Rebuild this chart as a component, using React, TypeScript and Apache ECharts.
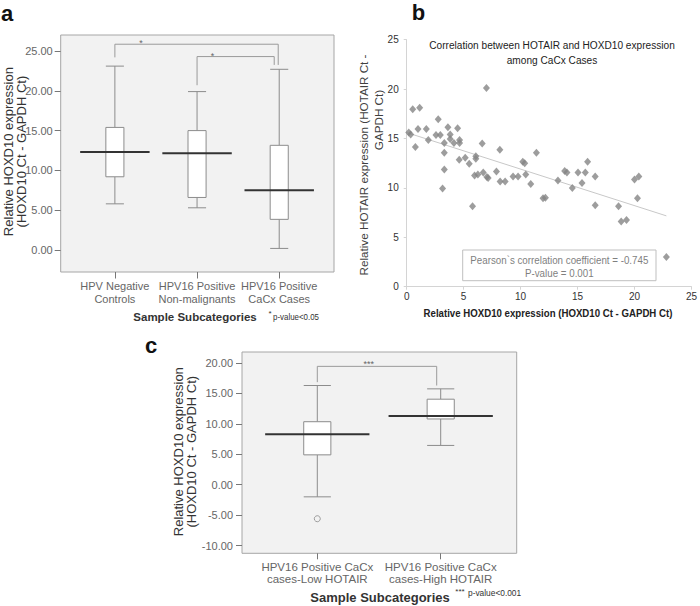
import React, { useEffect, useRef } from 'react';
import * as echarts from 'echarts';

// ---------- Panel a ----------
const catsA = ['HPV Negative\nControls', 'HPV16 Positive\nNon-malignants', 'HPV16 Positive\nCaCx Cases'];
// [low whisker, Q1, median, Q3, high whisker]
const boxA = [
  [5.8, 9.2, 12.3, 15.4, 23.1],
  [5.3, 6.6, 12.15, 15.0, 19.9],
  [0.2, 3.85, 7.5, 13.15, 22.7],
];
// [fromCat, toCat, top, left leg end, right leg end]
const bracketsA = [
  [0, 2, 25.85, 24.2, 23.25],
  [1, 2, 24.3, 20.7, 23.25],
];
const bracketLabelsA = ['*', '*'];

// ---------- Panel b ----------
const scatterB = [
  [0.18, 15.6], [0.35, 15.4], [0.53, 17.95], [0.76, 14.15], [0.99, 15.95], [1.14, 18.1],
  [1.72, 15.95], [1.9, 14.85], [2.57, 15.35], [2.77, 16.95], [2.95, 15.35], [3.15, 9.95],
  [3.3, 14.55], [3.3, 13.55], [3.3, 11.85], [3.62, 16.15], [3.82, 15.4], [3.82, 14.95],
  [4.15, 14.55], [4.47, 16.05], [4.64, 14.85], [4.64, 14.55], [4.61, 12.85], [5.14, 13.05],
  [5.49, 12.45], [5.78, 8.15], [5.96, 11.25], [6.07, 13.2], [6.07, 12.95], [6.25, 11.35],
  [6.63, 14.5], [6.72, 11.55], [7.0, 20.1], [7.04, 11.1], [7.15, 11.0], [7.88, 11.65],
  [8.18, 13.85], [8.2, 10.65], [8.64, 10.65], [9.34, 11.15], [9.78, 11.15], [10.19, 12.65],
  [10.36, 12.5], [10.45, 11.35], [10.89, 10.4], [11.39, 13.55], [11.97, 8.95], [12.18, 9.0],
  [13.28, 10.75], [13.87, 11.7], [14.07, 11.55], [14.54, 10.0], [15.04, 11.55], [15.39, 10.5],
  [15.68, 11.55], [15.88, 12.65], [16.55, 11.15], [16.55, 8.25], [18.6, 8.15], [18.83, 6.6],
  [19.3, 6.75], [20.0, 10.85], [20.26, 8.95], [20.38, 11.15], [22.8, 3.0],
];
const fitB = [[0, 15.6], [22.8, 7.17]];
const titleB = 'Correlation between HOTAIR and HOXD10 expression\namong CaCx Cases';
const statsB = ['Pearson`s correlation coefficient = -0.745', 'P-value = 0.001'];

// ---------- Panel c ----------
const catsC = ['HPV16 Positive CaCx\ncases-Low HOTAIR', 'HPV16 Positive CaCx\ncases-High HOTAIR'];
const boxC = [
  [-2.0, 4.9, 8.3, 10.35, 16.3],
  [6.45, 10.8, 11.3, 14.05, 15.75],
];
const outliersC = [[0, -5.6]];
const bracketsC = [[0, 1, 19.45, 16.85, 16.3]];
const bracketLabelsC = ['***'];

const FONT = 'Arial, "Liberation Sans", sans-serif';
const BOXGRAY = '#8c8c8c';

const boxRender = (params: any, api: any) => {
  const idx = api.value(0);
  const band = api.size([1, 0])[0];
  const xc = api.coord([idx, 0])[0];
  const y = (k: number) => api.coord([idx, api.value(k)])[1];
  const yl = y(1), q1 = y(2), md = y(3), q3 = y(4), yh = y(5);
  const bw = band * 0.22;
  const mw = band * 0.845;
  const ws = { stroke: BOXGRAY, lineWidth: 1, fill: null };
  return {
    type: 'group',
    children: [
      { type: 'line', shape: { x1: xc, y1: yh, x2: xc, y2: q3 }, style: ws },
      { type: 'line', shape: { x1: xc, y1: q1, x2: xc, y2: yl }, style: ws },
      { type: 'line', shape: { x1: xc - bw / 2, y1: yh, x2: xc + bw / 2, y2: yh }, style: ws },
      { type: 'line', shape: { x1: xc - bw / 2, y1: yl, x2: xc + bw / 2, y2: yl }, style: ws },
      { type: 'rect', shape: { x: xc - bw / 2, y: q3, width: bw, height: q1 - q3 }, style: { fill: '#ffffff', stroke: BOXGRAY, lineWidth: 1 } },
      { type: 'line', shape: { x1: xc - mw / 2, y1: md, x2: xc + mw / 2, y2: md }, style: { stroke: '#333333', lineWidth: 2 } },
    ],
  };
};

const makeBracketRender = (labels: string[], fracs: number[], insets: number[], ty: number) => (params: any, api: any) => {
  const i = params.dataIndex;
  const a = api.value(0), b = api.value(1);
  const xa = api.coord([a, 0])[0];
  const xb = api.coord([b, 0])[0] - insets[i];
  const yt = api.coord([a, api.value(2)])[1];
  const yl = api.coord([a, api.value(3)])[1];
  const yr = api.coord([a, api.value(4)])[1];
  return {
    type: 'group',
    children: [
      { type: 'polyline', shape: { points: [[xa, yl], [xa, yt], [xb, yt], [xb, yr]] }, style: { stroke: '#9a9a9a', lineWidth: 1, fill: null } },
      { type: 'text', x: xa + (xb - xa) * fracs[i], y: yt + ty, style: { text: labels[i], fill: '#666666', fontSize: 9, fontFamily: FONT, align: 'center', verticalAlign: 'middle' } },
    ],
  };
};

const text = (x: number, y: number, t: string, o: any = {}) => ({
  type: 'text',
  x,
  y,
  rotation: o.rotation || 0,
  scaleX: o.scaleX || 1,
  z: 10,
  style: {
    text: t,
    fill: o.fill || '#333333',
    fontSize: o.fontSize || 12,
    fontFamily: o.fontFamily || FONT,
    fontWeight: o.fontWeight || 'normal',
    align: o.align || 'center',
    verticalAlign: o.verticalAlign || 'middle',
    lineHeight: o.lineHeight,
  },
});

export default function App() {
  const ref = useRef<HTMLDivElement>(null);
  useEffect(() => {
    if (!ref.current) return;
    const chart = echarts.init(ref.current, undefined, { renderer: 'svg' });
    const fmt2 = (v: number) => v.toFixed(2);
    const option: any = {
      animation: false,
      backgroundColor: '#ffffff',
      grid: [
        { left: 73.8, top: 51, width: 246.5, height: 199 },
        { left: 406.7, top: 39.7, width: 286.5, height: 247 },
        { left: 255.6, top: 363, width: 246.8, height: 182.5 },
      ],
      xAxis: [
        {
          gridIndex: 0, type: 'category', data: catsA, offset: 22,
          axisLine: { show: false, onZero: false },
          axisTick: { show: true, alignWithLabel: true, length: 6.5, lineStyle: { color: '#777' } },
          axisLabel: { color: '#666', fontSize: 11, lineHeight: 13, margin: 7.5, interval: 0, fontFamily: FONT },
        },
        {
          gridIndex: 1, type: 'value', min: 0, max: 25, interval: 5,
          axisLine: { show: true, onZero: false, lineStyle: { color: '#d4d4d4' } },
          axisTick: { show: true, length: 3, lineStyle: { color: '#d4d4d4' } },
          axisLabel: { color: '#333', fontSize: 10, margin: 5, fontFamily: FONT },
          splitLine: { show: false },
        },
        {
          gridIndex: 2, type: 'category', data: catsC, offset: 7.8,
          axisLine: { show: false, onZero: false },
          axisTick: { show: true, alignWithLabel: true, length: 6, lineStyle: { color: '#777' } },
          axisLabel: { color: '#666', fontSize: 11.5, lineHeight: 12, margin: 7.4, interval: 0, fontFamily: FONT },
        },
      ],
      yAxis: [
        {
          gridIndex: 0, type: 'value', min: 0, max: 25, interval: 5, offset: 13.1,
          axisLine: { show: false, onZero: false },
          axisTick: { show: true, length: 6, lineStyle: { color: '#777' } },
          axisLabel: { color: '#666', fontSize: 11, margin: 8, formatter: fmt2, fontFamily: FONT },
          splitLine: { show: false },
        },
        {
          gridIndex: 1, type: 'value', min: 0, max: 25, interval: 5,
          axisLine: { show: true, onZero: false, lineStyle: { color: '#d4d4d4' } },
          axisTick: { show: true, length: 3, lineStyle: { color: '#d4d4d4' } },
          axisLabel: { color: '#333', fontSize: 10, margin: 8, fontFamily: FONT },
          splitLine: { show: false },
        },
        {
          gridIndex: 2, type: 'value', min: -10, max: 20, interval: 5, offset: 13.6,
          axisLine: { show: false, onZero: false },
          axisTick: { show: true, length: 6, lineStyle: { color: '#777' } },
          axisLabel: { color: '#666', fontSize: 11, margin: 9, formatter: fmt2, fontFamily: FONT },
          splitLine: { show: false },
        },
      ],
      series: [
        {
          type: 'custom', xAxisIndex: 0, yAxisIndex: 0, renderItem: boxRender,
          encode: { x: 0, y: [1, 2, 3, 4, 5] },
          data: boxA.map((b, i) => [i, ...b]), z: 3,
        },
        {
          type: 'custom', xAxisIndex: 0, yAxisIndex: 0,
          renderItem: makeBracketRender(bracketLabelsA, [0.16, 0.2], [1, 5], -1),
          encode: { x: [0, 1], y: [2, 3, 4] },
          data: bracketsA, z: 3,
        },
        {
          type: 'line', xAxisIndex: 1, yAxisIndex: 1, data: fitB, symbol: 'none',
          lineStyle: { color: '#c8c8c8', width: 1 }, z: 2,
        },
        {
          type: 'scatter', xAxisIndex: 1, yAxisIndex: 1, data: scatterB, symbol: 'diamond',
          symbolSize: [7, 8], itemStyle: { color: '#858585' }, z: 3,
        },
        {
          type: 'custom', xAxisIndex: 2, yAxisIndex: 2, renderItem: boxRender,
          encode: { x: 0, y: [1, 2, 3, 4, 5] },
          data: boxC.map((b, i) => [i, ...b]), z: 3,
        },
        {
          type: 'scatter', xAxisIndex: 2, yAxisIndex: 2, data: outliersC, symbol: 'circle', symbolSize: 6,
          itemStyle: { color: 'rgba(0,0,0,0)', borderColor: '#888', borderWidth: 1 }, z: 3,
        },
        {
          type: 'custom', xAxisIndex: 2, yAxisIndex: 2,
          renderItem: makeBracketRender(bracketLabelsC, [0.43], [4], -2),
          encode: { x: [0, 1], y: [2, 3, 4] },
          data: bracketsC, z: 3,
        },
      ],
      graphic: [
        // frames
        { type: 'rect', z: -1, shape: { x: 60.7, y: 35, width: 273.3, height: 237 }, style: { fill: '#f2f2f2', stroke: '#a6a6a6', lineWidth: 1 } },
        { type: 'rect', z: -1, shape: { x: 242, y: 352, width: 274.7, height: 201.3 }, style: { fill: '#f2f2f2', stroke: '#a6a6a6', lineWidth: 1 } },
        // Pearson box
        { type: 'rect', z: 5, shape: { x: 462.7, y: 250, width: 193.3, height: 30.7 }, style: { fill: '#ffffff', stroke: '#bfbfbf', lineWidth: 1 } },
        text(559.3, 259.5, statsB[0], { fontSize: 11.5, scaleX: 0.85, fill: '#7f7f7f' }),
        text(559.3, 272.7, statsB[1], { fontSize: 11.5, scaleX: 0.85, fill: '#7f7f7f' }),
        // panel letters
        text(7, 13, 'a', { fontSize: 22, fontWeight: 'bold', fill: '#111' }),
        text(418.5, 12.4, 'b', { fontSize: 22, fontWeight: 'bold', fill: '#111' }),
        text(151, 345.5, 'c', { fontSize: 22, fontWeight: 'bold', fill: '#111' }),
        // panel a titles
        text(15, 151.6, 'Relative HOXD10 expression\n(HOXD10 Ct - GAPDH Ct)', { rotation: Math.PI / 2, fontSize: 13, lineHeight: 12.5, fill: '#333' }),
        text(195, 317, 'Sample Subcategories', { fontSize: 11.5, fontWeight: 'bold', fill: '#333' }),
        text(270, 313, '*', { fontSize: 8, fill: '#333' }),
        text(273, 317, 'p-value<0.05', { fontSize: 9, align: 'left', scaleX: 0.88, fill: '#333' }),
        // panel b titles
        text(552, 52.5, titleB, { fontSize: 11.5, lineHeight: 14.5, scaleX: 0.88, fill: '#222' }),
        text(363.5, 165, 'Relative HOTAIR expression (HOTAIR Ct -', { rotation: Math.PI / 2, fontSize: 11.7, fill: '#404040' }),
        text(378, 120, 'GAPDH Ct)', { rotation: Math.PI / 2, fontSize: 11.7, fill: '#404040' }),
        text(548, 313, 'Relative HOXD10 expression (HOXD10 Ct - GAPDH Ct)', { fontSize: 11.5, fontWeight: 'bold', scaleX: 0.84, fill: '#222' }),
        // panel c titles
        text(185, 451.7, 'Relative HOXD10 expression\n(HOXD10 Ct - GAPDH Ct)', { rotation: Math.PI / 2, fontSize: 13, lineHeight: 13, fill: '#333' }),
        text(380, 597, 'Sample Subcategories', { fontSize: 13, fontWeight: 'bold', fill: '#333' }),
        text(460, 591, '***', { fontSize: 8, fill: '#333' }),
        text(468, 593, 'p-value<0.001', { fontSize: 9.5, align: 'left', scaleX: 0.88, fill: '#333' }),
      ],
    };
    chart.setOption(option);
    return () => chart.dispose();
  }, []);
  return <div ref={ref} style={{ position: 'absolute', left: 0, top: 0, width: 700, height: 606 }} />;
}
